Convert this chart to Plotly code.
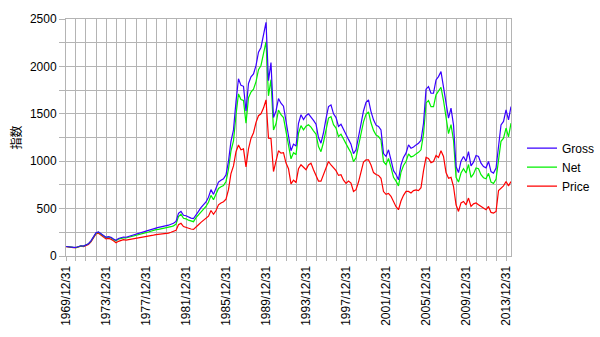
import pandas as pd
import plotly.graph_objects as go

# Quarter-end dates (Dec 1969 .. Jun 2014)
dates = pd.date_range("1969-12-31", "2014-06-30", freq="QE").strftime("%Y-%m-%d").tolist()

gross = [
    100,
    96, 88, 90, 90,
    98, 108, 105, 115,
    130, 160, 200, 245,
    255, 235, 215, 198,
    205, 198, 180, 165,
    185, 195, 200, 198,
    205, 212, 220, 232,
    240, 245, 252, 262,
    270, 280, 288, 298,
    302, 308, 312, 320,
    325, 335, 345, 365,
    450, 470, 430, 425,
    410, 400, 395, 440,
    470, 510, 545, 570,
    620, 700, 650, 720,
    780, 800, 815, 856,
    1000, 1210, 1330, 1630,
    1870, 1800, 1790, 1530,
    1820, 1890, 1920, 2010,
    2150, 2200, 2330, 2465,
    1850, 2040, 1460, 1530,
    1660, 1612, 1580, 1430,
    1300, 1110, 1180, 1160,
    1400, 1490, 1440, 1480,
    1500, 1470, 1430, 1390,
    1250, 1190, 1300, 1450,
    1576, 1594, 1500, 1460,
    1366, 1390, 1330, 1270,
    1230, 1180, 1080, 1120,
    1250, 1380, 1530, 1620,
    1647, 1523, 1436, 1380,
    1366, 1330, 1080, 1050,
    1120, 1015, 900, 860,
    804, 960, 1040, 1085,
    1172, 1137, 1150, 1172,
    1190, 1220, 1400, 1760,
    1787, 1717, 1717, 1857,
    1892, 1945, 1790, 1612,
    1454, 1559, 1380, 944,
    880, 1000, 1050, 1000,
    1102, 950, 990, 1060,
    1050, 980, 944, 930,
    997, 891, 874, 927,
    1190, 1383, 1420, 1541,
    1436, 1576,
]

net = [
    100,
    96, 88, 90, 89,
    97, 107, 104, 113,
    128, 157, 196, 240,
    250, 230, 210, 193,
    200, 192, 175, 160,
    178, 188, 192, 190,
    196, 203, 210, 221,
    228, 232, 238, 246,
    253, 262, 269, 278,
    281, 286, 289, 296,
    300, 309, 318, 336,
    415, 440, 398, 392,
    378, 368, 362, 404,
    432, 468, 500, 522,
    567, 640, 594, 658,
    712, 730, 743, 786,
    917, 1108, 1215, 1490,
    1710, 1650, 1640, 1400,
    1670, 1730, 1760, 1840,
    1965, 2010, 2130, 2260,
    1690, 1860, 1330, 1395,
    1540, 1490, 1460, 1320,
    1200, 1025, 1090, 1070,
    1295, 1375, 1330, 1370,
    1385, 1360, 1320, 1285,
    1155, 1100, 1200, 1340,
    1455, 1470, 1385, 1350,
    1260, 1285, 1230, 1172,
    1135, 1090, 995, 1035,
    1155, 1275, 1415, 1495,
    1520, 1405, 1325, 1275,
    1260, 1225, 995, 965,
    1030, 935, 830, 790,
    740, 883, 955, 997,
    1077, 1045, 1055, 1077,
    1093, 1120, 1285, 1615,
    1640, 1575, 1575, 1700,
    1735, 1780, 1640, 1475,
    1290, 1385, 1220, 830,
    780, 875, 920, 875,
    965, 830, 866, 928,
    920, 858, 826, 814,
    872, 780, 765, 811,
    1041, 1210, 1243, 1350,
    1257, 1401,
]

price = [
    100,
    95, 87, 88, 88,
    95, 104, 100, 108,
    122, 150, 188, 232,
    240, 220, 200, 180,
    185, 178, 160, 140,
    155, 165, 172, 168,
    172, 178, 185, 192,
    195, 196, 200, 205,
    210, 216, 220, 226,
    228, 232, 234, 238,
    242, 250, 256, 270,
    330, 345, 310, 300,
    292, 285, 280, 310,
    330, 355, 375, 392,
    420, 480, 440, 480,
    540, 560, 572, 600,
    700, 870, 950, 1100,
    1170, 1120, 1130, 940,
    1130, 1240, 1300, 1410,
    1480, 1500, 1560, 1647,
    1243, 1240, 891, 1000,
    1110, 1085, 1090, 980,
    920, 760, 800, 775,
    920, 962, 930, 910,
    960, 980, 910, 850,
    790, 790, 860, 950,
    997, 960, 930, 900,
    850, 857, 800, 766,
    790, 770, 680, 700,
    780, 900, 990, 1015,
    1015, 960, 880, 860,
    850, 820, 680, 650,
    660, 630, 570, 520,
    488, 580, 640, 681,
    681, 664, 690, 698,
    690, 720, 900, 1040,
    1030, 985, 997, 1060,
    1040, 1110, 1050, 880,
    820, 830, 733, 540,
    470, 560, 575, 540,
    611, 523, 550, 560,
    540, 523, 505, 488,
    523, 460, 453, 470,
    690, 716, 740, 786,
    740, 786,
]

assert len(dates) == len(gross) == len(net) == len(price), (len(dates), len(gross), len(net), len(price))

grid_years = list(range(1969, 2014))
label_years = list(range(1969, 2014, 4))
x_tickvals = [f"{y}-12-31" for y in grid_years]
x_ticktext = [f"{y}/12/31" if y in label_years else "" for y in grid_years]

y_tickvals = list(range(0, 2501, 250))
y_ticktext = [str(v) if v % 500 == 0 else "" for v in y_tickvals]

series_names = ["Gross", "Net", "Price"]
series_colors = ["#3a00ff", "#00f000", "#ff0000"]
series_values = [gross, net, price]

GRID = "#b4b4b4"
FONT = "Liberation Sans, Arial, sans-serif"

fig = go.Figure()
for name, color, vals in reversed(list(zip(series_names, series_colors, series_values))):
    fig.add_trace(go.Scatter(x=dates, y=vals, name=name, mode="lines",
                             line=dict(color=color, width=1.2)))

fig.update_layout(
    width=600, height=337,
    margin=dict(l=66, r=89, t=19, b=81, autoexpand=False),
    paper_bgcolor="white", plot_bgcolor="white",
    font=dict(family=FONT, size=12, color="black"),
    showlegend=True,
    legend=dict(traceorder="reversed", xref="container", yref="container",
                x=0.87, xanchor="left", y=0.504, yanchor="middle",
                font=dict(family=FONT, size=12, color="black"), bgcolor="rgba(0,0,0,0)",
                borderwidth=0),
    xaxis=dict(type="date", range=["1969-12-31", "2014-06-30"], automargin=False,
               tickmode="array", tickvals=x_tickvals, ticktext=x_ticktext, tickangle=-90,
               showgrid=True, gridcolor=GRID, gridwidth=1,
               ticks="outside", ticklen=4, tickcolor=GRID,
               showline=True, linecolor=GRID, mirror=True, zeroline=False,
               tickfont=dict(family=FONT, size=12, color="black")),
    yaxis=dict(range=[0, 2500], automargin=False,
               tickmode="array", tickvals=y_tickvals, ticktext=y_ticktext,
               showgrid=True, gridcolor=GRID, gridwidth=1,
               ticks="outside", ticklen=6, tickcolor=GRID,
               showline=True, linecolor=GRID, mirror=True, zeroline=False,
               tickfont=dict(family=FONT, size=12, color="black"),
               title=dict(text="指数", standoff=5,
                          font=dict(family="Noto Sans CJK JP", size=12, color="black"))),
)

fig.write_html("out.html")
